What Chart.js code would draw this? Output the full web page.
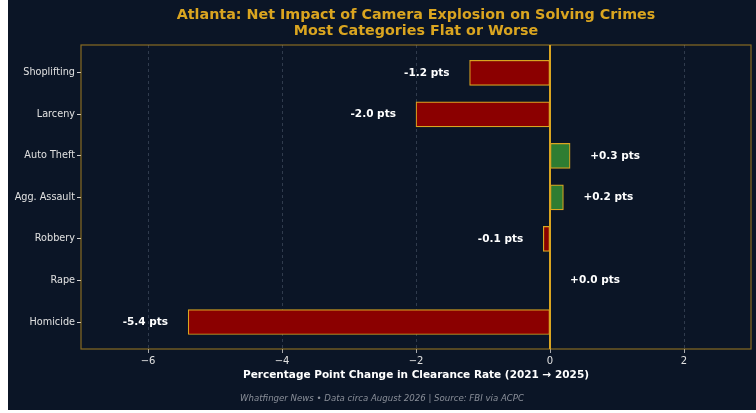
<!DOCTYPE html>
<html>
<head>
<meta charset="utf-8">
<script src="https://cdn.jsdelivr.net/npm/chart.js@4/dist/chart.umd.min.js"></script>
<style>
  html, body { margin: 0; padding: 0; background: #fff; }
  #wrap { position: absolute; left: 8px; top: 0; width: 748px; height: 410px; background: #0b1526; }
  canvas { display: block; }
</style>
</head>
<body>
<div id="wrap"><canvas id="impactChart" width="748" height="410"></canvas></div>
<script>
// chart data
const categories = ['Shoplifting', 'Larceny', 'Auto Theft', 'Agg. Assault', 'Robbery', 'Rape', 'Homicide'];
const changes = [-1.2, -2.0, 0.3, 0.2, -0.1, 0.0, -5.4];
const xTickValues = [-6, -4, -2, 0, 2];
const xTickLabels = ['\u22126', '\u22124', '\u22122', '0', '2'];

const titleLines = ['Atlanta: Net Impact of Camera Explosion on Solving Crimes', 'Most Categories Flat or Worse'];
const footerText = 'Whatfinger News \u2022 Data circa August 2026 | Source: FBI via ACPC';

const GOLD = '#DAA520';
const FONT = "'DejaVu Sans', sans-serif";

const fmt = v => (v >= 0 ? '+' : '-') + Math.abs(v).toFixed(1) + ' pts';

// title, frame, zero line, value labels, footer
const decor = {
  id: 'decor',
  beforeDatasetsDraw(chart) {
    const { ctx, chartArea: a } = chart;
    ctx.save();
    ctx.strokeStyle = 'rgba(218,165,32,0.6)';
    ctx.lineWidth = 1.2;
    ctx.strokeRect(a.left, a.top, a.right - a.left, a.bottom - a.top);
    ctx.restore();
  },
  afterDatasetsDraw(chart) {
    const { ctx, chartArea: a, scales } = chart;
    const xs = scales.x, ys = scales.y;
    ctx.save();
    // zero line
    const x0 = xs.getPixelForValue(0);
    ctx.strokeStyle = GOLD;
    ctx.lineWidth = 2;
    ctx.beginPath();
    ctx.moveTo(x0, a.top);
    ctx.lineTo(x0, a.bottom);
    ctx.stroke();

    // value labels
    ctx.font = 'bold 10.5px ' + FONT;
    ctx.fillStyle = '#ffffff';
    ctx.textBaseline = 'middle';
    changes.forEach((v, i) => {
      const y = ys.getPixelForValue(i);
      if (v >= 0) {
        ctx.textAlign = 'left';
        ctx.fillText(fmt(v), xs.getPixelForValue(v + 0.3), y);
      } else {
        ctx.textAlign = 'right';
        ctx.fillText(fmt(v), xs.getPixelForValue(v - 0.3), y);
      }
    });

    // title
    const cx = (a.left + a.right) / 2;
    ctx.font = 'bold 14.3px ' + FONT;
    ctx.fillStyle = GOLD;
    ctx.textAlign = 'center';
    ctx.fillText(titleLines[0], cx, 15);
    ctx.fillText(titleLines[1], cx, 31);

    // footer
    ctx.font = 'italic 8.6px ' + FONT;
    ctx.fillStyle = '#8a8f99';
    ctx.fillText(footerText, chart.width / 2, 399);
    ctx.restore();
  }
};

new Chart(document.getElementById('impactChart'), {
  type: 'bar',
  data: {
    datasets: [{
      data: changes.map((v, i) => ({ x: v, y: i })),
      backgroundColor: changes.map(v => v < 0 ? '#8b0000' : '#2e7d32'),
      borderColor: GOLD,
      borderWidth: 1.2,
      borderSkipped: false,
      barThickness: 25
    }]
  },
  options: {
    indexAxis: 'y',
    responsive: false,
    animation: false,
    layout: { padding: { top: 45, right: 5, bottom: 28, left: 0 } },
    plugins: {
      legend: { display: false },
      tooltip: { enabled: false }
    },
    scales: {
      x: {
        type: 'linear',
        min: -7,
        max: 3,
        afterBuildTicks: s => { s.ticks = xTickValues.map(v => ({ value: v })); },
        afterFit: s => { s.height = 33; },
        ticks: {
          color: '#e0e0e0',
          font: { family: FONT, size: 10 },
          padding: 2,
          callback: v => xTickLabels[xTickValues.indexOf(v)]
        },
        grid: {
          color: 'rgba(150,160,180,0.35)',
          lineWidth: 0.8,
          tickColor: '#d0d0d0',
          tickLength: 4,
          tickBorderDash: [],
        },
        border: { display: false, dash: [3, 3] },
        title: {
          display: true,
          text: 'Percentage Point Change in Clearance Rate (2021 \u2192 2025)',
          color: '#ffffff',
          font: { family: FONT, size: 10.5, weight: 'bold' },
          padding: { top: 2, bottom: 0 }
        }
      },
      y: {
        type: 'linear',
        reverse: true,
        offset: false,
        min: -0.67,
        max: 6.65,
        afterBuildTicks: s => { s.ticks = categories.map((c, i) => ({ value: i })); },
        afterFit: s => { s.width = 73; },
        ticks: {
          color: '#e0e0e0',
          font: { family: FONT, size: 9.7 },
          padding: 2,
          callback: v => categories[v]
        },
        grid: {
          offset: false,
          drawOnChartArea: false,
          tickColor: '#d0d0d0',
          tickLength: 4
        },
        border: { display: false }
      }
    }
  },
  plugins: [decor]
});
</script>
</body>
</html>
